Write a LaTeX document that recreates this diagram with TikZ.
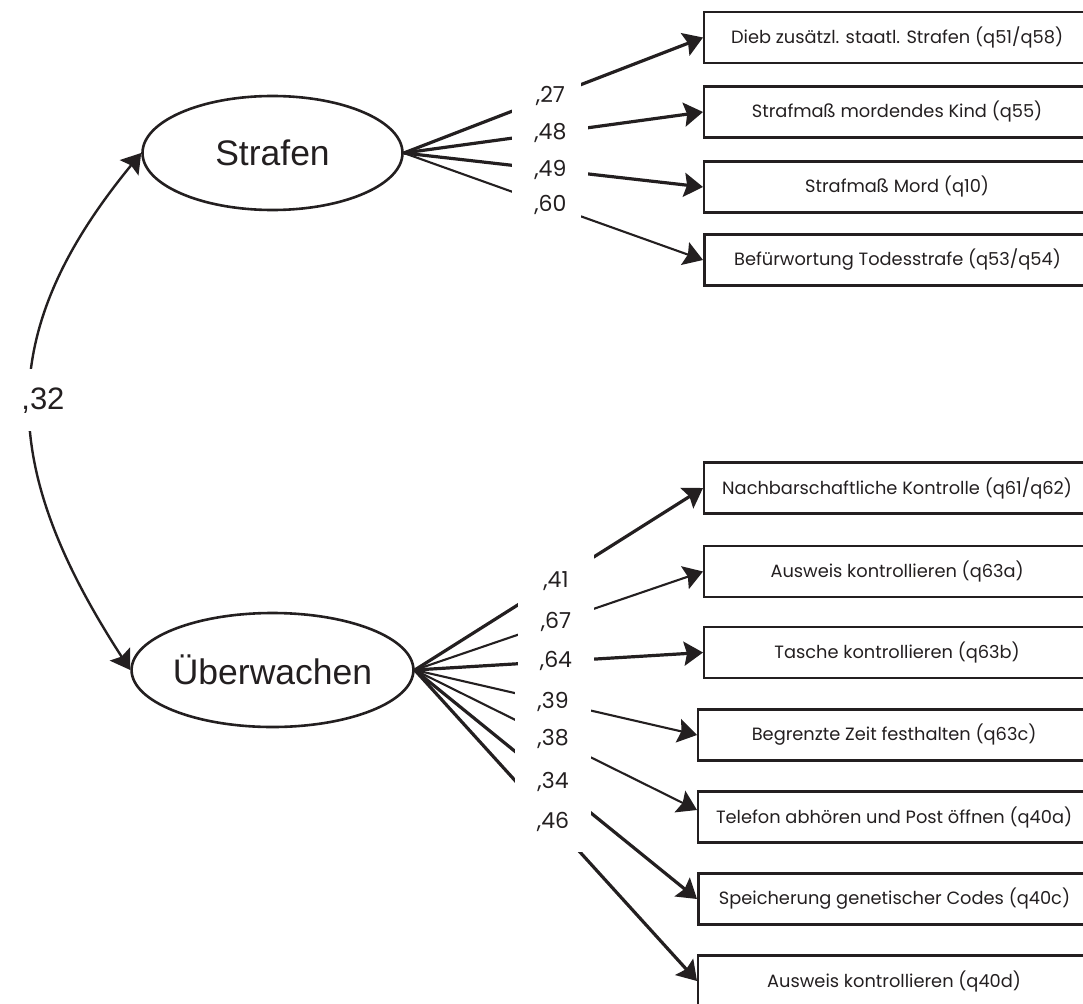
\documentclass[tikz,border=0pt]{standalone}
\usepackage{fontspec}
\setmainfont{Poppins}
\newfontfamily\arialfont{Liberation Sans}
\usetikzlibrary{arrows.meta,shapes.geometric}
\definecolor{inkc}{RGB}{35,31,32}
\begin{document}
\begin{tikzpicture}[x=1pt,y=-1pt,
  latent/.style={ellipse, draw=inkc, line width=2.6pt, minimum width=260pt,
    minimum height=114pt, inner sep=0pt, text=inkc,
    font=\arialfont\fontsize{35.5}{40}\selectfont},
  obsbox/.style={rectangle, draw=inkc, line width=2.2pt, minimum width=386pt,
    minimum height=51pt, anchor=west, inner sep=0pt, text=inkc,
    font=\fontsize{17.8}{20}\selectfont},
  headtip/.tip={Stealth[length=19pt,width=24pt,inset=3pt]},
  heavy/.style={draw=inkc, line width=3.2pt, -headtip},
  light/.style={draw=inkc, line width=2.1pt, -headtip},
  gapmask/.style={fill=white, draw=none, inner sep=0pt, minimum width=76pt,
    minimum height=60pt, pos=0.49},
  coef/.style={inner sep=0pt, pos=0.49, text=inkc,
    font=\fontsize{22}{25}\selectfont},
]
\useasboundingbox (0,0) rectangle (1083,1003);

% latent factors
\node[latent] (S) at (272.5,153) {Strafen};
\node[latent] (U) at (272.5,670) {Überwachen};

% indicators of "Strafen"
\node[obsbox] (b1) at (703,37.5) {Dieb zusätzl. staatl. Strafen (q51/q58)};
\node[obsbox] (b2) at (703,112) {Strafmaß mordendes Kind (q55)};
\node[obsbox] (b3) at (703,187) {Strafmaß Mord (q10)};
\node[obsbox, line width=3pt] (b4) at (703,260) {Befürwortung Todesstrafe (q53/q54)};

% indicators of "Überwachen"
\node[obsbox] (b5) at (703,488) {Nachbarschaftliche Kontrolle (q61/q62)};
\node[obsbox] (b6) at (703,571.5) {Ausweis kontrollieren (q63a)};
\node[obsbox] (b7) at (703,652.5) {Tasche kontrollieren (q63b)};
\node[obsbox, minimum width=392pt] (b8) at (697,735) {Begrenzte Zeit festhalten (q63c)};
\node[obsbox, minimum width=392pt] (b9) at (697,817) {Telefon abhören und Post öffnen (q40a)};
\node[obsbox, minimum width=392pt, line width=3pt] (b10) at (697,899) {Speicherung genetischer Codes (q40c)};
\node[obsbox, minimum width=392pt] (b11) at (697,981) {Ausweis kontrollieren (q40d)};

% loadings
\draw[heavy] (S.east) -- (b1.west);
\draw[heavy] (S.east) -- (b2.west);
\draw[heavy] (S.east) -- (b3.west);
\draw[light] (S.east) -- (b4.west);

\draw[heavy] (U.east) -- (b5.west);
\draw[light] (U.east) -- (b6.west);
\draw[heavy] (U.east) -- (b7.west);
\draw[light] (U.east) -- (b8.west);
\draw[light] (U.east) -- ([yshift=7pt]b9.west);
\draw[heavy] (U.east) -- (b10.west);
\draw[heavy] (U.east) -- (b11.west);

% white patches behind the coefficients
\path (S.east) -- node[gapmask, minimum width=62pt] {} (b1.west);
\path (S.east) -- node[gapmask] {} (b2.west);
\path (S.east) -- node[gapmask] {} (b3.west);
\path (S.east) -- node[gapmask, minimum width=62pt] {} (b4.west);
\path (U.east) -- node[gapmask] {} (b5.west);
\path (U.east) -- node[gapmask] {} (b6.west);
\path (U.east) -- node[gapmask] {} (b7.west);
\path (U.east) -- node[gapmask] {} (b8.west);
\path (U.east) -- node[gapmask] {} ([yshift=7pt]b9.west);
\path (U.east) -- node[gapmask] {} (b10.west);
\path (U.east) -- node[gapmask] {} (b11.west);

% coefficients
\path (S.east) -- node[coef] {,27} (b1.west);
\path (S.east) -- node[coef] {,48} (b2.west);
\path (S.east) -- node[coef] {,49} (b3.west);
\path (S.east) -- node[coef] {,60} (b4.west);
\path (U.east) -- node[coef] {,41} (b5.west);
\path (U.east) -- node[coef] {,67} (b6.west);
\path (U.east) -- node[coef] {,64} (b7.west);
\path (U.east) -- node[coef] {,39} (b8.west);
\path (U.east) -- node[coef] {,38} ([yshift=7pt]b9.west);
\path (U.east) -- node[coef] {,34} (b10.west);
\path (U.east) -- node[coef] {,46} (b11.west);

% factor covariance
\draw[draw=inkc, line width=2.4pt, headtip-headtip] (S.west)
  .. controls (-4,330) and (-4,463) ..
  node[pos=0.5, fill=white, inner xsep=0pt, inner ysep=0pt, minimum height=62pt,
       minimum width=20pt] (cvgap) {}
  (U.west);
\node[text=inkc, font=\arialfont\fontsize{31}{34}\selectfont, inner sep=0pt]
  (cv) at ([xshift=12pt]cvgap.center) {,32};
\end{tikzpicture}
\end{document}
